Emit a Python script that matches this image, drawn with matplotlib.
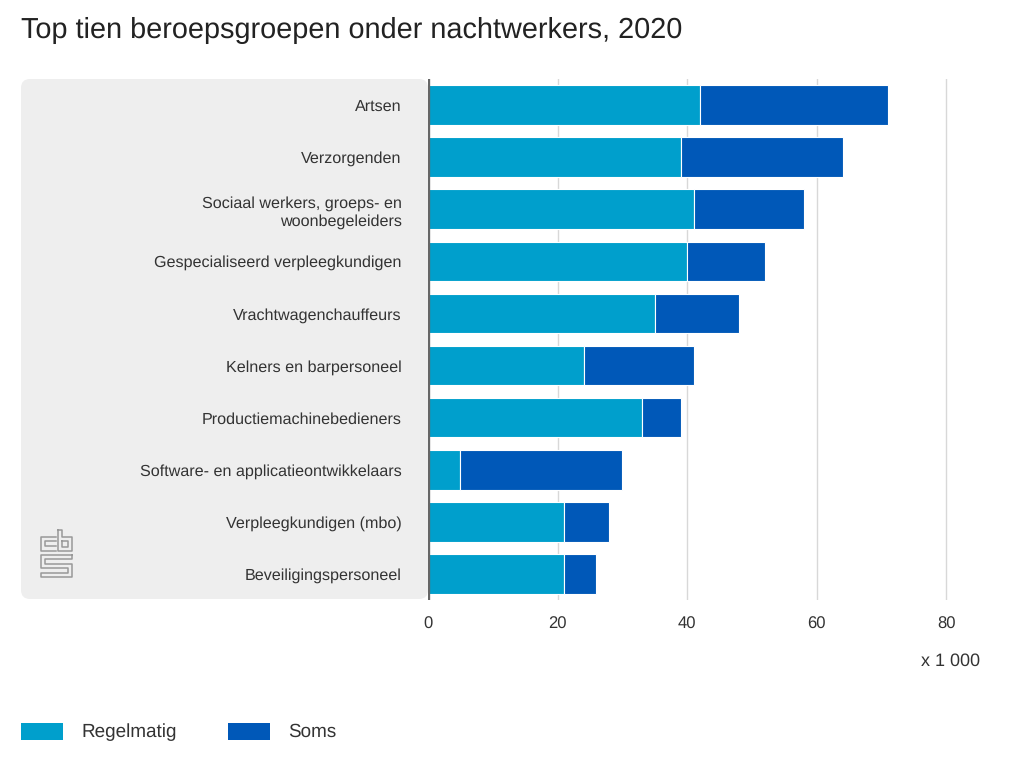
import matplotlib
matplotlib.use("Agg")
import matplotlib.pyplot as plt
from matplotlib.patches import FancyBboxPatch, Rectangle
from matplotlib.lines import Line2D
from matplotlib.transforms import Affine2D

plt.rcParams["font.family"] = ["Liberation Sans", "DejaVu Sans"]
plt.rcParams["text.hinting"] = "no_hinting"

CATEGORIES = [
    "Artsen",
    "Verzorgenden",
    "Sociaal werkers, groeps- en\nwoonbegeleiders",
    "Gespecialiseerd verpleegkundigen",
    "Vrachtwagenchauffeurs",
    "Kelners en barpersoneel",
    "Productiemachinebedieners",
    "Software- en applicatieontwikkelaars",
    "Verpleegkundigen (mbo)",
    "Beveiligingspersoneel",
]
REGELMATIG = [42, 39, 41, 40, 35, 24, 33, 5, 21, 21]
SOMS = [29, 25, 17, 12, 13, 17, 6, 25, 7, 5]
XTICKS = [0, 20, 40, 60, 80]

W, H = 1024, 768
TEXT = "#333333"
C1 = "#009FCC"
C2 = "#0058B8"

fig = plt.figure(figsize=(W / 100, H / 100), dpi=100)
# pixel coordinates with origin top left
px = Affine2D().scale(1 / W, -1 / H).translate(0, 1) + fig.transFigure

# grey panel behind the labels
fig.add_artist(FancyBboxPatch((21, 79), 407, 520, boxstyle="round,pad=0,rounding_size=9",
                              fc="#EEEEEE", ec="none", transform=px, zorder=-1))

ax = fig.add_axes([428 / W, 1 - 600 / H, 552 / W, 521 / H])
ax.patch.set_alpha(0)
ax.set_xlim(0, 552 / 6.48)
ax.set_ylim(9.5, -0.5)

y = range(len(CATEGORIES))
ax.barh(y, REGELMATIG, height=0.76, color=C1, edgecolor="white", linewidth=0.8, zorder=3)
ax.barh(y, SOMS, left=REGELMATIG, height=0.76, color=C2, edgecolor="white", linewidth=0.8, zorder=3)

ax.set_xticks(XTICKS)
ax.set_yticks(list(y), CATEGORIES, ha="right", multialignment="right", linespacing=1.25)
ax.tick_params(axis="y", length=0, pad=19, labelsize=11.6, labelcolor=TEXT)
ax.tick_params(axis="x", length=0, pad=12, labelsize=12, labelcolor=TEXT)
ax.grid(axis="x", color="#D8D8D8", linewidth=1, zorder=0)
for side in ["top", "right", "bottom", "left"]:
    ax.spines[side].set_visible(False)
ax.axvline(0, color="#666666", linewidth=2.4, zorder=4)

fig.text(21 / W, 1 - 30 / H, "Top tien beroepsgroepen onder nachtwerkers, 2020",
         fontsize=20.8, color="#222222", va="center", ha="left")
fig.text(980 / W, 1 - 661 / H, "x 1 000", fontsize=13, color=TEXT, va="center", ha="right")

# legend
for x0, color, label, xt in [(21, C1, "Regelmatig", 81), (228, C2, "Soms", 288)]:
    fig.add_artist(Rectangle((x0, 723), 42, 17, fc=color, ec="none", transform=px))
    fig.text(xt / W, 1 - 732 / H, label, fontsize=13.6, color=TEXT, va="center", ha="left")

# cbs logo
LOGO = [
    [(56, 537), (41, 537), (41, 551), (56, 551)],
    [(56, 541), (45, 541), (45, 546), (56, 546)],
    [(58, 530), (58, 551), (72, 551), (72, 537), (62, 537), (62, 530), (58, 530)],
    [(62, 541), (68, 541), (68, 547), (62, 547), (62, 541)],
    [(72, 555), (41, 555), (41, 568), (68, 568), (68, 573), (41, 573), (41, 577), (72, 577),
     (72, 564), (45, 564), (45, 559), (72, 559), (72, 555)],
]
for path in LOGO:
    fig.add_artist(Line2D([p[0] for p in path], [p[1] for p in path], color="#999999",
                          linewidth=1.1, transform=px))

fig.savefig("out.png", dpi=100)
